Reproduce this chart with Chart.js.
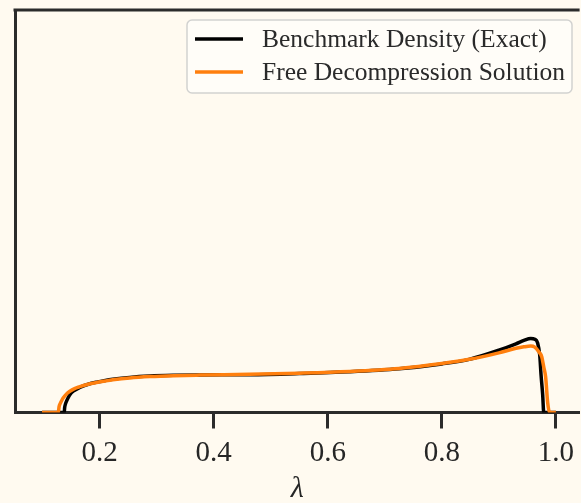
<!DOCTYPE html>
<html>
<head>
<meta charset="utf-8">
<script src="https://cdn.jsdelivr.net/npm/chart.js@4.4.1/dist/chart.umd.min.js"></script>
<style>
  html, body { margin: 0; padding: 0; background: #fffaf0; overflow: hidden; }
  #wrap { width: 581px; height: 503px; }
</style>
</head>
<body>
<div id="wrap"><canvas id="densityChart" width="581" height="503"></canvas></div>
<script>
// benchmark density (black)
const exactLambda = [0.099, 0.1379, 0.1387, 0.140, 0.142, 0.1448, 0.1478, 0.1536, 0.1653, 0.18, 0.1945,
  0.21, 0.223, 0.2528, 0.2878, 0.33, 0.3752, 0.4627, 0.5501, 0.6376, 0.7251, 0.80, 0.848, 0.90,
  0.93, 0.944, 0.956, 0.963, 0.968, 0.9717, 0.974, 0.9769, 0.9787, 1.0];
const exactDensity = [0, 0, 0.13, 0.22, 0.30, 0.39, 0.47, 0.56, 0.66, 0.745, 0.80,
  0.845, 0.875, 0.925, 0.96, 0.98, 0.99, 0.995, 1.025, 1.07, 1.15, 1.28, 1.40, 1.64,
  1.81, 1.90, 1.95, 1.93, 1.83, 1.51, 0.99, 0.46, 0, 0];

// free decompression (orange)
const freeLambda = [0.099, 0.1274, 0.129, 0.131, 0.1333, 0.136, 0.142, 0.1478, 0.156, 0.1653, 0.18,
  0.1945, 0.21, 0.223, 0.2528, 0.2878, 0.33, 0.3752, 0.4627, 0.5501, 0.6376, 0.7251, 0.80, 0.848,
  0.90, 0.93, 0.944, 0.956, 0.963, 0.970, 0.9752, 0.9787, 0.982, 0.9857, 0.989, 1.0];
const freeDensity = [0, 0, 0.16, 0.24, 0.31, 0.38, 0.49, 0.56, 0.63, 0.68, 0.745,
  0.79, 0.83, 0.86, 0.91, 0.945, 0.97, 0.985, 1.005, 1.035, 1.08, 1.16, 1.29, 1.40,
  1.57, 1.69, 1.73, 1.75, 1.72, 1.60, 1.47, 1.20, 0.94, 0.25, 0, 0];

const xTicks = [0.2, 0.4, 0.6, 0.8, 1.0];
const seriesLabels = ["Benchmark Density (Exact)", "Free Decompression Solution"];

const spineColor = "#2b2b2b";
const serif = "'Liberation Serif', 'DejaVu Serif', serif";

function toPoints(xs, ys) {
  return xs.map((x, i) => ({ x: x, y: ys[i] }));
}

// top spine + legend box drawn by hand, matplotlib style
const framePlugin = {
  id: "frame",
  beforeDatasetsDraw(chart) {
    const { ctx, chartArea } = chart;
    ctx.save();
    ctx.strokeStyle = spineColor;
    ctx.lineWidth = 3;
    ctx.beginPath();
    ctx.moveTo(chartArea.left - 1.5, chartArea.top);
    ctx.lineTo(chartArea.right, chartArea.top);
    ctx.stroke();
    ctx.restore();
  },
  afterDraw(chart) {
    const { ctx } = chart;
    const ds = chart.data.datasets;
    ctx.save();
    const bx = 187, by = 20, bw = 385, bh = 73, r = 5;
    ctx.beginPath();
    ctx.roundRect(bx, by, bw, bh, r);
    ctx.fillStyle = "rgba(255,255,255,0.55)";
    ctx.fill();
    ctx.strokeStyle = "#d2d2d0";
    ctx.lineWidth = 1.5;
    ctx.stroke();

    ctx.font = "25.5px " + serif;
    ctx.textBaseline = "middle";
    ctx.fillStyle = "#2a2a2a";
    const rows = [39, 72];
    seriesLabels.forEach((label, i) => {
      const d = ds.find(s => s.label === label);
      ctx.strokeStyle = d.borderColor;
      ctx.lineWidth = 3.5;
      ctx.beginPath();
      ctx.moveTo(195, rows[i]);
      ctx.lineTo(243, rows[i]);
      ctx.stroke();
      ctx.fillText(label, 262, rows[i] + 1);
    });
    ctx.restore();
  }
};

const ctx = document.getElementById("densityChart").getContext("2d");
new Chart(ctx, {
  type: "line",
  data: {
    datasets: [
      {
        label: seriesLabels[1],
        data: toPoints(freeLambda, freeDensity),
        borderColor: "#ff7f0e",
        borderWidth: 3.5,
        pointRadius: 0,
        cubicInterpolationMode: "monotone",
        order: 0
      },
      {
        label: seriesLabels[0],
        data: toPoints(exactLambda, exactDensity),
        borderColor: "#000000",
        borderWidth: 3.5,
        pointRadius: 0,
        cubicInterpolationMode: "monotone",
        order: 1
      }
    ]
  },
  options: {
    responsive: false,
    devicePixelRatio: 1,
    animation: false,
    layout: { padding: { top: 10, left: 0, right: 0, bottom: -4 } },
    plugins: {
      legend: { display: false },
      tooltip: { enabled: false }
    },
    scales: {
      x: {
        type: "linear",
        min: 0.0516,
        max: 1.0416,
        afterBuildTicks: s => { s.ticks = xTicks.map(v => ({ value: v })); },
        afterFit: s => { s.height = 94.5; },
        ticks: {
          color: "#262626",
          padding: 7,
          maxRotation: 0,
          font: { family: serif, size: 29 },
          callback: v => v.toFixed(1)
        },
        grid: {
          drawOnChartArea: false,
          drawTicks: true,
          tickLength: 16,
          tickWidth: 3,
          tickColor: spineColor
        },
        border: { color: spineColor, width: 3 },
        title: {
          display: true,
          text: "λ",
          color: "#262626",
          padding: { top: 0, bottom: 0 },
          font: { family: serif, size: 30, style: "italic" }
        }
      },
      y: {
        min: 0,
        max: 10.6,
        afterFit: s => { s.width = 15; },
        ticks: { display: false },
        grid: { drawOnChartArea: false, drawTicks: false },
        border: { color: spineColor, width: 3 }
      }
    }
  },
  plugins: [framePlugin]
});
</script>
</body>
</html>
